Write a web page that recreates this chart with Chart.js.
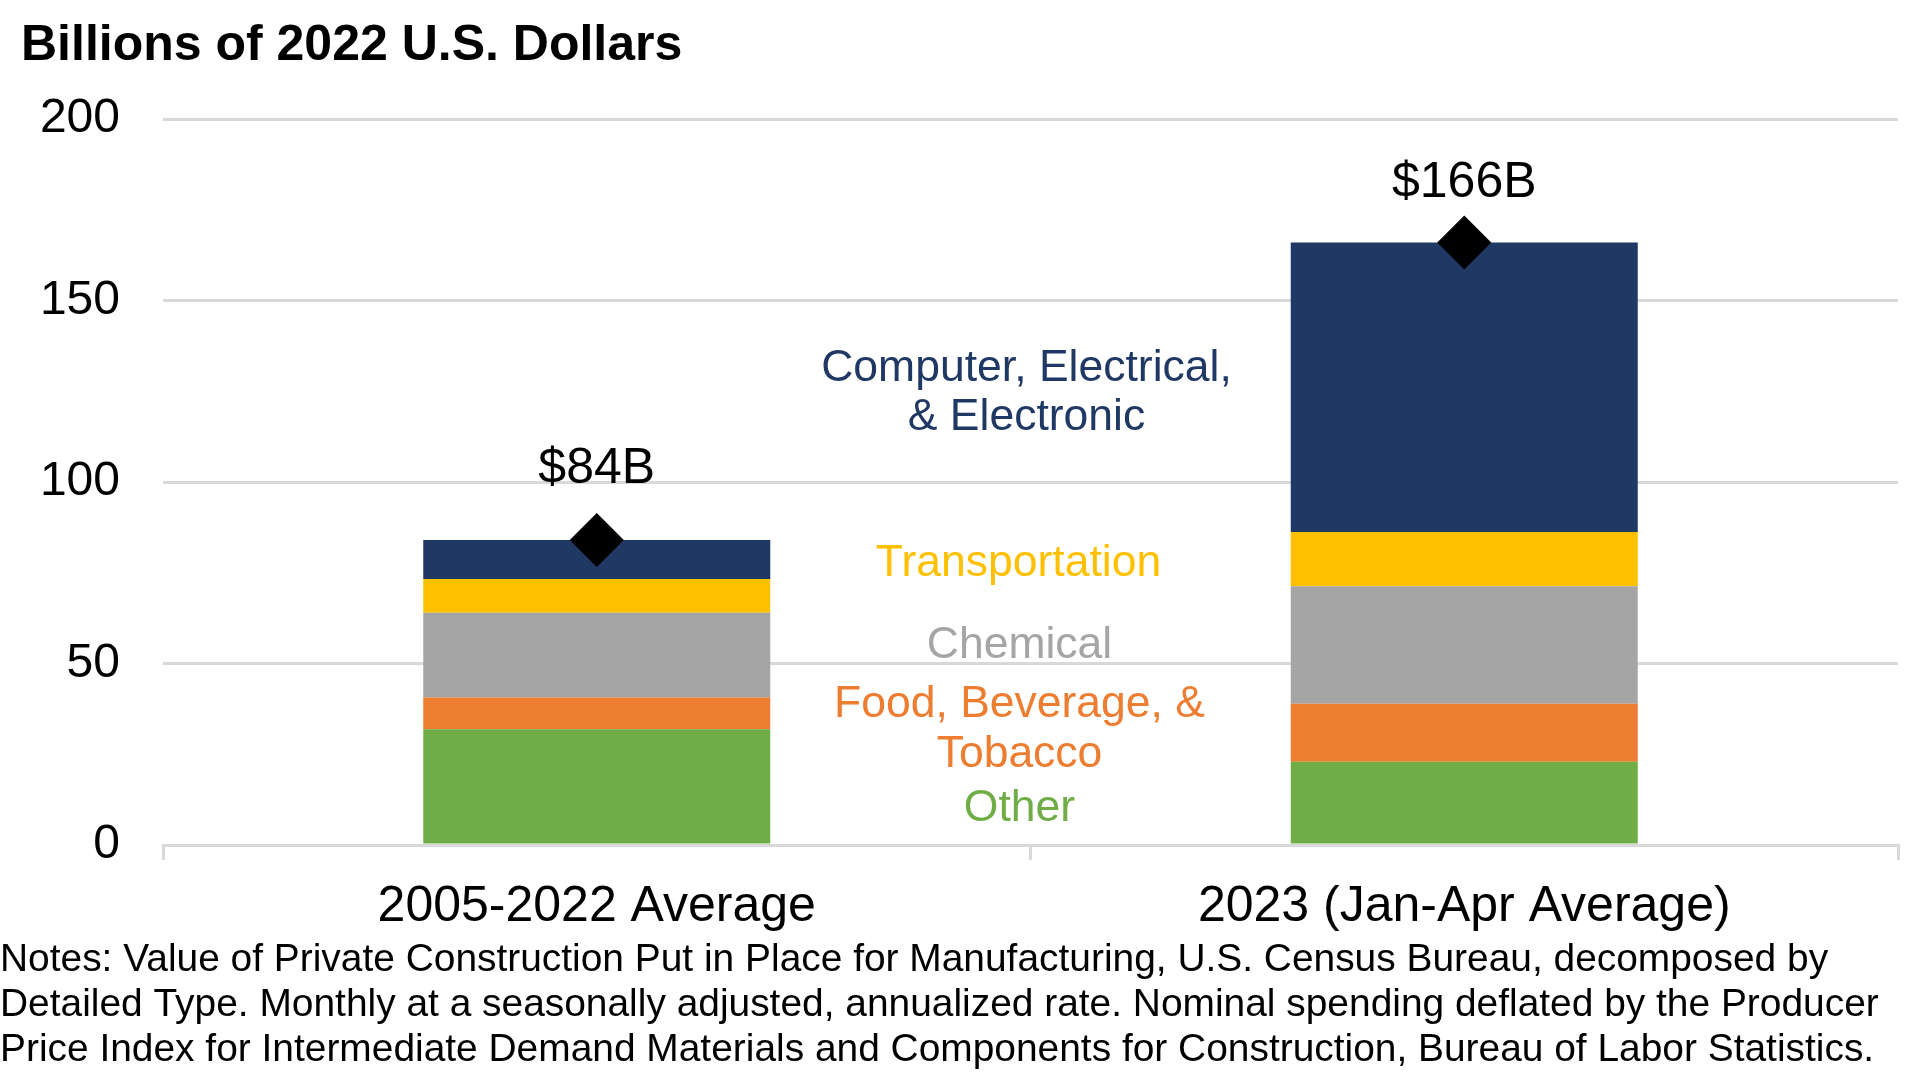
<!DOCTYPE html>
<html>
<head>
<meta charset="utf-8">
<title>Manufacturing construction spending</title>
<script src="https://cdn.jsdelivr.net/npm/chart.js@4.4.1/dist/chart.umd.min.js"></script>
<style>
  body { margin: 0; background: #fff; }
  #chart-wrap { width: 1920px; height: 1075px; }
</style>
</head>
<body>
<div id="chart-wrap"><canvas id="spend-chart" width="1920" height="1075"></canvas></div>
<script>
// values, billions of 2022 dollars
const categories = ['2005-2022 Average', '2023 (Jan-Apr Average)']
const otherVals = [31.9, 22.9]
const foodVals = [8.7, 16.0]
const chemicalVals = [23.4, 32.4]
const transportVals = [9.3, 14.9]
const computerVals = [10.7, 79.8]
const totals = [84, 166]

const seriesNames = ['Other', 'Food, Beverage, & Tobacco', 'Chemical', 'Transportation', 'Computer, Electrical, & Electronic']
const seriesLabelLines = [['Other'], ['Food, Beverage, &', 'Tobacco'], ['Chemical'], ['Transportation'], ['Computer, Electrical,', '& Electronic']]
const titleText = 'Billions of 2022 U.S. Dollars'
const noteLines = [
    'Notes: Value of Private Construction Put in Place for Manufacturing, U.S. Census Bureau, decomposed by',
    'Detailed Type. Monthly at a seasonally adjusted, annualized rate. Nominal spending deflated by the Producer',
    'Price Index for Intermediate Demand Materials and Components for Construction, Bureau of Labor Statistics.'
]

const FONT = '"Liberation Sans", Arial, Helvetica, sans-serif'

function getColor(name){
    if(name === 'Other') return '#70AD47'
    if(name === 'Food, Beverage, & Tobacco') return '#ED7D31'
    if(name === 'Chemical') return '#A5A5A5'
    if(name === 'Transportation') return '#FFC000'
    if(name === 'Computer, Electrical, & Electronic') return '#203864'
}

// title at top, notes at the bottom
const textPlugin = {
    id: 'textPlugin',
    afterDraw(chart) {
        const ctx = chart.ctx
        ctx.save()
        ctx.fillStyle = '#000'
        ctx.textAlign = 'left'
        ctx.textBaseline = 'alphabetic'
        ctx.font = 'bold 50px ' + FONT
        ctx.fillText(titleText, 21, 60)
        ctx.font = '38.9px ' + FONT
        noteLines.forEach((line, i) => ctx.fillText(line, 0, 971 + i * 45))
        ctx.restore()
    }
}

// coloured series names in the gap between the bars + the $xxB totals
const labelPlugin = {
    id: 'labelPlugin',
    afterDatasetsDraw(chart) {
        const ctx = chart.ctx
        const y = chart.scales.y
        const area = chart.chartArea
        const midX = (area.left + area.right) / 2
        // baseline of each line, in axis units, and a small x nudge
        const spots = [
            {at: [6.7], dx: -11},
            {at: [35.2, 21.4], dx: -11},
            {at: [51.4], dx: -11},
            {at: [74.1], dx: -12},
            {at: [127.9, 114.3], dx: -4}
        ]
        ctx.save()
        ctx.textAlign = 'center'
        ctx.textBaseline = 'alphabetic'
        ctx.font = '44.5px ' + FONT
        seriesLabelLines.forEach((lines, i) => {
            ctx.fillStyle = getColor(seriesNames[i])
            lines.forEach((txt, j) => ctx.fillText(txt, midX + spots[i].dx, y.getPixelForValue(spots[i].at[j])))
        })

        // total labels sit a bit higher over the short bar than over the tall one
        const lift = [57, 45]
        const meta = chart.getDatasetMeta(0)
        ctx.fillStyle = '#000'
        ctx.font = '50px ' + FONT
        meta.data.forEach((pt, i) => {
            ctx.fillText('$' + totals[i] + 'B', pt.x, pt.y - lift[i])
        })
        ctx.restore()
    }
}

const barSets = [otherVals, foodVals, chemicalVals, transportVals, computerVals].map((vals, i) => ({
    type: 'bar',
    label: seriesNames[i],
    data: vals,
    backgroundColor: getColor(seriesNames[i]),
    borderWidth: 0,
    categoryPercentage: 1.0,
    barPercentage: 0.4
}))

const canvas = document.querySelector('#spend-chart')
const myChart = new Chart(canvas.getContext('2d'), {
    type: 'bar',
    data: {
        labels: categories,
        datasets: [
            {
                type: 'line',
                label: 'Total',
                data: totals,
                stack: 'total',
                order: -1,
                showLine: false,
                pointStyle: 'rectRot',
                pointRadius: 27,
                pointHoverRadius: 27,
                pointBackgroundColor: '#000',
                pointBorderWidth: 0,
                borderColor: '#000'
            },
            ...barSets
        ]
    },
    options: {
        responsive: false,
        animation: false,
        // big diamonds made chart.js pad the plot on every side, turn that off
        layout: { autoPadding: false, padding: { left: 40, top: 119, right: 22, bottom: 130 } },
        plugins: {
            legend: { display: false },
            tooltip: { enabled: false }
        },
        scales: {
            x: {
                stacked: true,
                offset: true,
                afterFit: s => { s.height = 100 },
                grid: { offset: true, drawOnChartArea: false, drawTicks: true, tickLength: 15, color: '#D9D9D9', lineWidth: 3 },
                border: { display: true, color: '#D9D9D9', width: 3 },
                ticks: { color: '#000', padding: 17, font: { family: FONT, size: 50 } }
            },
            y: {
                stacked: true,
                min: 0,
                max: 200,
                afterFit: s => { s.width = 123 },
                grid: { color: '#D9D9D9', lineWidth: 3, drawTicks: false },
                border: { display: false },
                ticks: { stepSize: 50, color: '#000', padding: 43, font: { family: FONT, size: 48 } }
            }
        }
    },
    plugins: [labelPlugin, textPlugin]
})
</script>
</body>
</html>
